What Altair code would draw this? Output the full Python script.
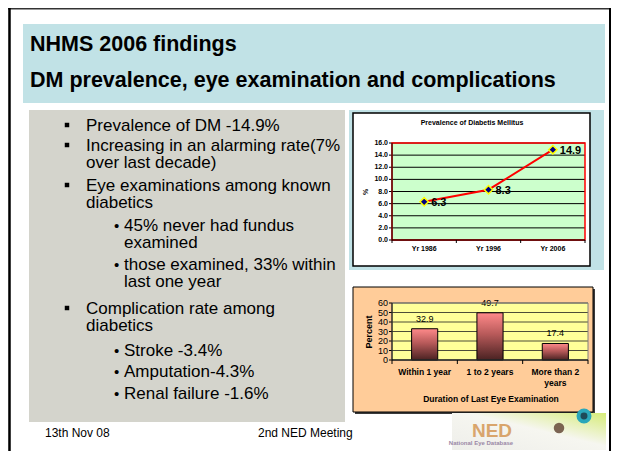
import altair as alt
import pandas as pd

# ---------------- data ----------------
years = ["Yr 1986", "Yr 1996", "Yr 2006"]
prevalence = [6.3, 8.3, 14.9]
prev_ticks = [0.0, 2.0, 4.0, 6.0, 8.0, 10.0, 12.0, 14.0, 16.0]

durations = ["Within 1 year", "1 to 2 years", "More than 2 years"]
duration_labels = ["Within 1 year", "1 to 2 years", "More than 2\nyears"]
percent = [32.9, 49.7, 17.4]
pct_ticks = [0, 10, 20, 30, 40, 50, 60]

title_lines = ["NHMS 2006 findings", "DM prevalence, eye examination and complications"]
bullets = [
    (1, "Prevalence of DM -14.9%", 126),
    (1, "Increasing in an alarming rate(7%\nover last decade)", 146),
    (1, "Eye examinations among known\ndiabetics", 186),
    (2, "45% never had fundus\nexamined", 226),
    (2, "those examined, 33% within\nlast one year", 265),
    (1, "Complication rate among\ndiabetics", 309),
    (2, "Stroke -3.4%", 351),
    (2, "Amputation-4.3%", 372),
    (2, "Renal failure -1.6%", 394),
]
footer_left = "13th Nov 08"
footer_mid = "2nd NED Meeting"

# ---------------- helpers ----------------
OX, OY = 8, 8
FONT = "Liberation Sans"
one = pd.DataFrame({"k": [0]})


def X(v):
    return alt.value(v - OX)


def Y(v):
    return alt.value(v - OY)


def rect(x1, y1, x2, y2, **kw):
    return alt.Chart(one).mark_rect(**kw).encode(x=X(x1), x2=X(x2), y=Y(y1), y2=Y(y2))


def rule(x1, y1, x2, y2, **kw):
    return alt.Chart(one).mark_rule(**kw).encode(x=X(x1), x2=X(x2), y=Y(y1), y2=Y(y2))


def text(s, x, y, size, bold=False, align="left", color="black", angle=None,
         baseline="middle", font=FONT, **extra):
    kw = dict(align=align, baseline=baseline, fontSize=size,
              fontWeight="bold" if bold else "normal", color=color, font=font)
    if angle is not None:
        kw["angle"] = angle
    kw.update(extra)
    return alt.Chart(one).mark_text(**kw).encode(x=X(x), y=Y(y), text=alt.value(s))


layers = []

# ---------------- slide title ----------------
LIGHTBLUE = "#C1E2E6"
layers.append(rect(23, 24, 605, 103, color=LIGHTBLUE))
layers.append(text(title_lines[0], 30, 51, 21.5, bold=True, baseline="alphabetic"))
layers.append(text(title_lines[1], 30, 87, 21.5, bold=True, baseline="alphabetic"))

# ---------------- left text box ----------------
layers.append(rect(29, 110, 345, 422, color="#D4D4CC"))
for level, s, yy in bullets:
    tx = 86 if level == 1 else 124
    layers.append(text(s, tx, yy - 8.5, 17, baseline="top", lineBreak="\n", lineHeight=17.5))
    if level == 1:
        layers.append(alt.Chart(one).mark_square(color="black", size=20, opacity=1)
                      .encode(x=X(67), y=Y(yy - 1)))
    else:
        layers.append(text("\u2022", 114, yy, 15))

# ---------------- chart 1 : prevalence line ----------------
layers.append(rect(349, 110, 604, 270, color=LIGHTBLUE))
layers.append(rect(353, 113, 590, 266, color="white", stroke="black", strokeWidth=1.5))
layers.append(text("Prevalence of Diabetis Mellitus", 472, 123, 7, bold=True, align="center"))
P1X0, P1X1, P1Y0, P1Y1 = 392, 585, 143, 240
layers.append(rect(P1X0, P1Y0, P1X1, P1Y1, color="#CCFFCC"))

df1 = pd.DataFrame({"year": years, "prev": prevalence})
dft1 = pd.DataFrame({"t": prev_ticks})
xs1 = alt.Scale(type="point", domain=years, range=[P1X0 - OX, P1X1 - OX], padding=0.5)
ys1 = alt.Scale(domain=[0, 16], range=[P1Y1 - OY, P1Y0 - OY], nice=False, zero=True)
xenc1 = alt.X("year:N", scale=xs1, axis=None, sort=years)
yenc1 = alt.Y("prev:Q", scale=ys1, axis=None)
ytick1 = alt.Y("t:Q", scale=ys1, axis=None)

grid1 = alt.Chart(dft1).mark_rule(color="black", strokeWidth=1).encode(
    y=ytick1, x=X(P1X0), x2=X(P1X1))
tick1 = alt.Chart(dft1).mark_rule(color="black", strokeWidth=1).encode(
    y=ytick1, x=X(P1X0 - 3), x2=X(P1X0))
ylab1 = alt.Chart(dft1).mark_text(align="right", baseline="middle", fontSize=7,
                                  fontWeight="bold", font=FONT).encode(
    y=ytick1, x=X(P1X0 - 4), text=alt.Text("t:Q", format=".1f"))
line1 = alt.Chart(df1).mark_line(color="#FF0000", strokeWidth=2).encode(x=xenc1, y=yenc1)
pts1 = alt.Chart(df1).mark_point(shape="diamond", filled=True, fill="#000080",
                                 stroke="#FFFF00", strokeWidth=1.5, size=70,
                                 opacity=1).encode(x=xenc1, y=yenc1)
vlab1 = alt.Chart(df1).mark_text(align="left", baseline="middle", dx=7, dy=1.5,
                                 fontSize=11, fontWeight="bold", font=FONT).encode(
    x=xenc1, y=yenc1, text=alt.Text("prev:Q", format=".1f"))
xlab1 = alt.Chart(df1).mark_text(align="center", baseline="middle", fontSize=7,
                                 fontWeight="bold", font=FONT).encode(
    x=xenc1, y=Y(249), text="year:N")
layers.append(alt.layer(grid1, tick1, ylab1, line1, pts1, vlab1, xlab1))

layers.append(rect(P1X0, P1Y0, P1X1, P1Y1, fillOpacity=0, stroke="#FF0000", strokeWidth=1.5))
layers.append(rule(P1X0, P1Y0, P1X0, P1Y1, color="black", strokeWidth=1))
layers.append(rule(P1X0, P1Y1, P1X1, P1Y1, color="black", strokeWidth=1))
for i in range(4):
    bx = P1X0 + i * (P1X1 - P1X0) / 3
    layers.append(rule(bx, P1Y1, bx, P1Y1 + 3, color="black", strokeWidth=1))
layers.append(text("%", 366, 192, 7, bold=True, align="center", angle=270))

# ---------------- chart 2 : last eye examination bars ----------------
layers.append(rect(355, 289, 595, 414, color="#3a3a3a"))
layers.append(rect(353, 287, 593, 412, color="#FFCC99", stroke="black", strokeWidth=1))
P2X0, P2X1, P2Y0, P2Y1 = 392, 588, 303, 360
layers.append(rect(P2X0, P2Y0, P2X1, P2Y1, color="#FFFF99"))

df2 = pd.DataFrame({"dur": durations, "label": duration_labels, "pct": percent})
dft2 = pd.DataFrame({"t": pct_ticks})
xs2 = alt.Scale(type="band", domain=durations, range=[P2X0 - OX, P2X1 - OX],
                paddingInner=0.6, paddingOuter=0.3)
ys2 = alt.Scale(domain=[0, 60], range=[P2Y1 - OY, P2Y0 - OY], nice=False, zero=True)
xenc2 = alt.X("dur:N", scale=xs2, axis=None, sort=durations)
yenc2 = alt.Y("pct:Q", scale=ys2, axis=None)
ytick2 = alt.Y("t:Q", scale=ys2, axis=None)

grid2 = alt.Chart(dft2).mark_rule(color="#202020", strokeWidth=0.8).encode(
    y=ytick2, x=X(P2X0), x2=X(P2X1))
tick2 = alt.Chart(dft2).mark_rule(color="black", strokeWidth=1).encode(
    y=ytick2, x=X(P2X0 - 3), x2=X(P2X0))
ylab2 = alt.Chart(dft2).mark_text(align="right", baseline="middle", fontSize=9,
                                  font=FONT).encode(
    y=ytick2, x=X(P2X0 - 4), text=alt.Text("t:Q", format="d"))
grad = alt.Gradient(
    gradient="linear",
    stops=[alt.GradientStop(color="#FF8A8A", offset=0),
           alt.GradientStop(color="#B85A5A", offset=0.45),
           alt.GradientStop(color="#4A2222", offset=1)],
    x1=0, x2=0, y1=0, y2=1)
bars2 = alt.Chart(df2).mark_bar(color=grad, stroke="black", strokeWidth=1).encode(
    x=xenc2, y=yenc2)
vlab2 = alt.Chart(df2).mark_text(align="center", baseline="middle", dy=-10,
                                 fontSize=9, font=FONT).encode(
    x=xenc2, y=yenc2, text=alt.Text("pct:Q", format=".1f"))
xlab2 = alt.Chart(df2).mark_text(align="center", baseline="top", lineBreak="\n",
                                 lineHeight=11, fontSize=8.5, fontWeight="bold",
                                 font=FONT).encode(
    x=xenc2, y=Y(368), text="label:N")
layers.append(alt.layer(grid2, tick2, ylab2, bars2, vlab2, xlab2))

layers.append(rect(P2X0, P2Y0, P2X1, P2Y1, fillOpacity=0, stroke="#808080", strokeWidth=1))
layers.append(rule(P2X0, P2Y0, P2X0, P2Y1, color="black", strokeWidth=1))
layers.append(rule(P2X0, P2Y1, P2X1, P2Y1, color="black", strokeWidth=1))
for i in range(4):
    bx = P2X0 + i * (P2X1 - P2X0) / 3
    layers.append(rule(bx, P2Y1, bx, P2Y1 + 4, color="black", strokeWidth=1))
layers.append(text("Percent", 369, 332, 9, bold=True, align="center", angle=270))
layers.append(text("Duration of Last Eye Examination", 491, 399, 8.5, bold=True, align="center"))

# ---------------- footer ----------------
layers.append(text(footer_left, 45, 433, 12))
layers.append(text(footer_mid, 258, 433, 12))

# ---------------- logo ----------------
logo_grad = alt.Gradient(
    gradient="linear",
    stops=[alt.GradientStop(color="#EEEEEA", offset=0),
           alt.GradientStop(color="#F6F6F0", offset=0.55),
           alt.GradientStop(color="#D6EC78", offset=1)],
    x1=0, x2=1, y1=1, y2=0)
layers.append(rect(452, 413, 606, 450, color=logo_grad))
layers.append(text("NED", 492, 431, 19, bold=True, align="center", color="#D9A56C"))
layers.append(text("National Eye Database", 481, 443, 6, bold=True, align="center", color="#9A88A6"))
layers.append(alt.Chart(one).mark_point(shape="circle", filled=True, color="#6E5442",
                                        size=110, opacity=0.9).encode(x=X(559), y=Y(428)))
layers.append(alt.Chart(one).mark_point(shape="circle", filled=True, fill="#1E4A58",
                                        stroke="#2AA7BA", strokeWidth=4, size=120,
                                        opacity=1).encode(x=X(584), y=Y(416)))

# ---------------- slide frame ----------------
layers.append(rule(8, 8.75, 611, 8.75, color="#333333", strokeWidth=1.5))
layers.append(rule(9.5, 8, 9.5, 451, color="black", strokeWidth=2.5))
layers.append(rule(610, 8, 610, 451, color="black", strokeWidth=2))

chart = (
    alt.layer(*layers)
    .resolve_scale(x="independent", y="independent")
    .properties(width=603, height=443, padding=0,
                autosize=alt.AutoSizeParams(type="none"))
    .configure_view(stroke=None)
    .configure(background="white")
)

chart.save("out.html", embed_options={"renderer": "svg", "actions": False})
